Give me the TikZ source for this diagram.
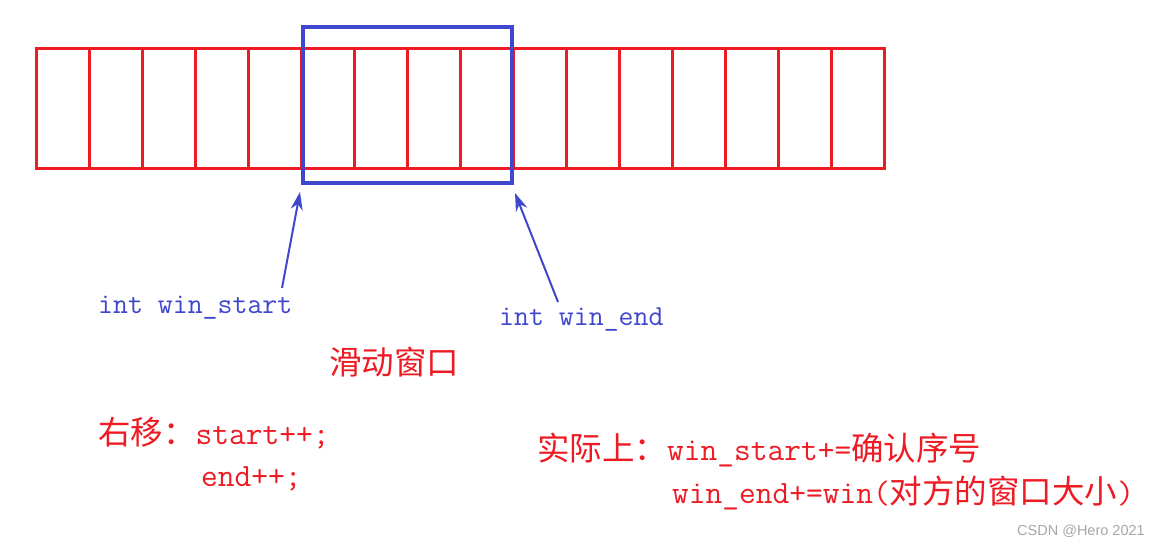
\documentclass[tikz,border=0pt]{standalone}
\usepackage{fontspec}
\newfontfamily\cjkfont{Noto Sans CJK SC}
\newfontfamily\wmfont{Liberation Sans}
\usetikzlibrary{arrows.meta}
\definecolor{pred}{HTML}{ED1C24}
\definecolor{pblue}{HTML}{3F48CC}
\definecolor{wmgray}{HTML}{A8A8A8}
\newcommand\zhtxt[1]{{\cjkfont\fontsize{32.5}{32.5}\selectfont #1}}
\begin{document}
\begin{tikzpicture}[x=1pt,y=-1pt,
  cell/.style={draw=pred, line width=3pt, minimum width=53pt, minimum height=120pt, inner sep=0pt, outer sep=0pt},
  window/.style={draw=pblue, line width=4.5pt, minimum width=209pt, minimum height=156pt, inner sep=0pt, outer sep=0pt},
  bluelabel/.style={text=pblue, font=\fontsize{29}{29}\selectfont\ttfamily, anchor=base west, inner sep=0pt},
  redtext/.style={text=pred, font=\fontsize{32.5}{32.5}\selectfont\ttfamily, anchor=base west, inner sep=0pt},
  watermark/.style={text=wmgray, font=\fontsize{14.5}{14.5}\selectfont\wmfont, anchor=base west, inner sep=0pt},
  pointer/.style={draw=pblue, line width=2pt, -{Stealth[length=18pt,width=12pt]}},
]
\useasboundingbox (0,0) rectangle (1159,545);
\fill[white] (0,0) rectangle (1159,545);
% red cells
\foreach \i in {1,...,16} {
  \node[cell] (c\i) at ({36+53*(\i-0.5)},109) {};
}
% sliding window
\node[window] (win) at (407.5,105) {};
% labels
\node[bluelabel] (lstart) at (98,313) {int win\_start};
\node[bluelabel] (lend) at (499,325) {int win\_end};
\coordinate (wsTail) at (282,288);
\coordinate (weTail) at (558,302);
\coordinate (wsTip) at ([shift={(-3,9)}]win.south west);
\coordinate (weTip) at ([shift={(3,10)}]win.south east);
\draw[pointer] (wsTail) -- (wsTip);
\draw[pointer] (weTail) -- (weTip);
% texts
\node[redtext] (title) at (329,374) {\zhtxt{滑动窗口}};
\node[redtext] (move1) at (98,444) {\zhtxt{右移：}start++;};
\node[redtext] (move2) at (201,486) {end++;};
\node[redtext] (real1) at (537,460) {\zhtxt{实际上：}win\_start+=\zhtxt{确认序号}};
\node[redtext] (real2) at (672,503) {win\_end+=win(\zhtxt{对方的窗口大小})};
\node[watermark] (wm) at (1017,535) {CSDN @Hero 2021};
\end{tikzpicture}
\end{document}
